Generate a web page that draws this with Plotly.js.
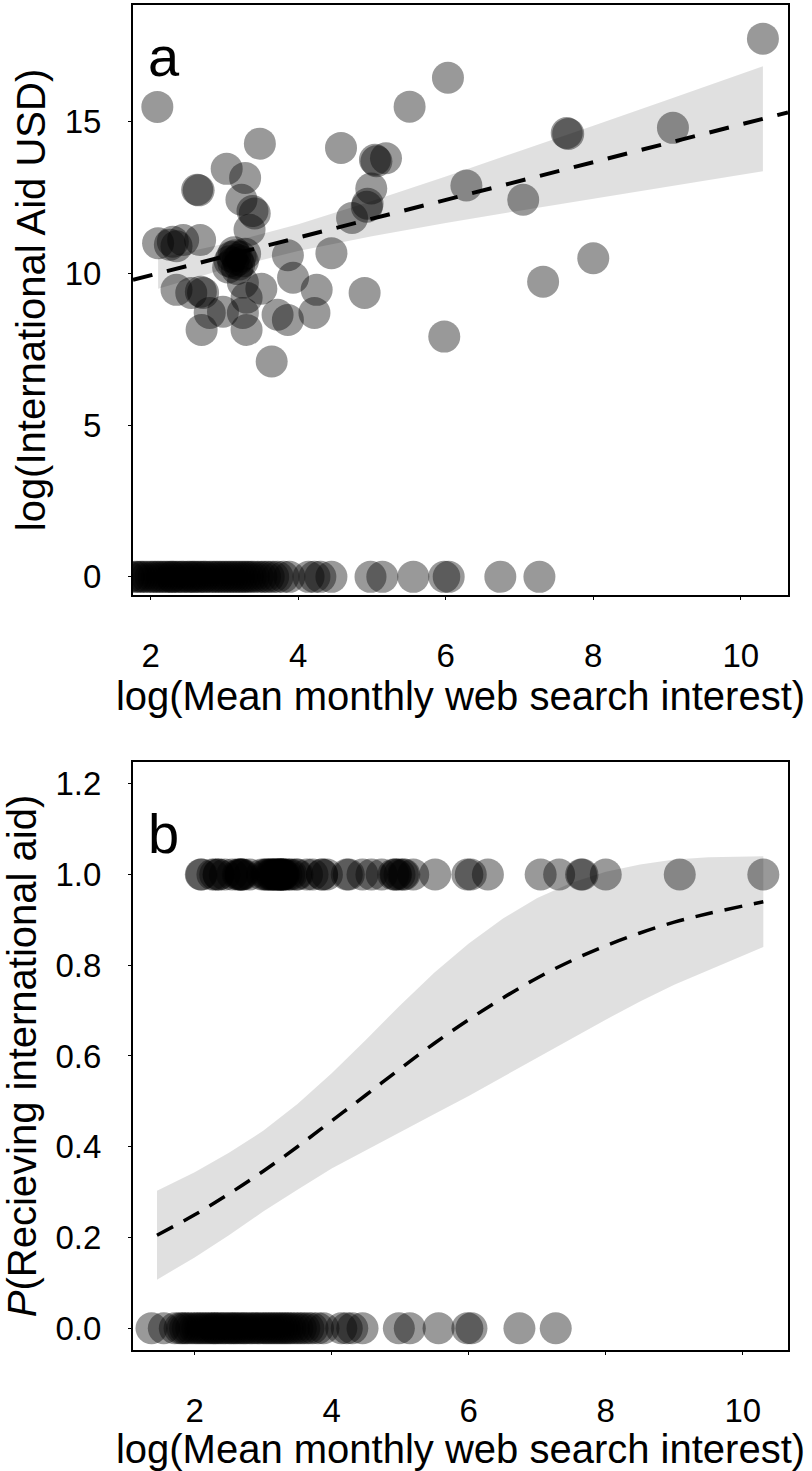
<!DOCTYPE html>
<html>
<head>
<meta charset="utf-8">
<script src="https://cdn.plot.ly/plotly-3.0.1.min.js"></script>
<style>
  html, body { margin: 0; padding: 0; background: #ffffff; }
  #chart { width: 812px; height: 1471px; }
</style>
</head>
<body>
<div id="chart"></div>
<script>
// ---------------- data ----------------
// Countries that received aid: x = log(search interest), y = log(aid USD)
var aidX = [2.09, 6.03, 5.51, 3.48, 4.58, 5.04, 5.06, 5.19, 3.03, 3.28,
            2.63, 2.65, 3.23, 3.38, 3.41, 3.34, 4.99, 4.94, 4.93, 4.73,
            6.28, 2.10, 2.26, 2.30, 2.44, 2.67, 2.35, 3.07, 3.10, 3.12,
            3.15, 3.18, 3.20, 3.22, 3.25, 3.13, 3.28, 3.05, 3.17, 3.86,
            4.45, 2.35, 2.55, 2.71, 2.68, 2.98, 2.80, 3.25, 3.30, 2.69,
            3.72, 3.86, 3.93, 4.25, 4.22, 4.90, 3.64, 5.98, 3.25, 3.30,
            3.50, 10.30, 7.64, 7.66, 9.08, 7.05, 8.00, 7.32];
var aidY = [15.49, 16.45, 15.50, 14.28, 14.14, 13.75, 13.70, 13.80, 13.45, 13.15,
            12.76, 12.74, 12.43, 12.06, 11.98, 11.44, 12.80, 12.30, 12.20, 11.83,
            12.90, 11.00, 10.95, 11.05, 11.10, 11.10, 10.90, 10.40, 10.55, 10.35,
            10.60, 10.45, 10.30, 10.55, 10.40, 10.70, 10.65, 10.20, 10.15, 10.60,
            10.67, 9.46, 9.36, 9.36, 9.40, 8.74, 8.70, 8.70, 8.14, 8.14,
            8.64, 8.47, 9.86, 9.46, 8.70, 9.36, 7.10, 7.92, 9.70, 9.20,
            9.50, 17.74, 14.63, 14.60, 14.80, 12.43, 10.50, 9.73];
// Countries that received no aid (aid = 0)
var noAidX = [1.37, 1.55, 1.71, 1.78, 1.82, 1.86, 1.90, 1.95, 2.00, 2.04,
              2.08, 2.12, 2.16, 2.20, 2.24, 2.28, 2.30, 2.34, 2.38, 2.42,
              2.45, 2.50, 2.53, 2.57, 2.60, 2.64, 2.68, 2.72, 2.75, 2.80,
              2.84, 2.88, 2.92, 2.96, 3.00, 3.04, 3.08, 3.12, 3.16, 3.20,
              3.24, 3.28, 3.32, 3.36, 3.40, 3.45, 3.50, 3.55, 3.60, 3.66,
              3.72, 3.80, 3.88, 4.14, 4.22, 4.30, 4.45, 4.98, 5.14, 5.56,
              5.98, 6.04, 6.74, 7.27];

// Panel a: linear fit and its confidence band
var fitAX     = [1.76, 10.64];
var fitAY     = [9.79, 15.31];
var bandAX    = [2.10, 3.00, 4.00, 5.00, 6.00, 7.00, 8.00, 9.00, 10.30];
var bandAUp   = [10.50, 10.98, 11.62, 12.39, 13.20, 14.03, 14.87, 15.72, 16.83];
var bandALow  = [9.50, 10.14, 10.74, 11.23, 11.66, 12.07, 12.47, 12.86, 13.37];

// Panel b: logistic fit and its confidence band
var fitBX    = [1.45, 2.00, 2.50, 3.00, 3.50, 4.00, 4.50, 5.00, 5.50, 6.00, 6.50, 7.00, 7.50, 8.00, 8.50, 9.00, 9.50, 10.30];
var fitBY    = [0.205, 0.250, 0.296, 0.346, 0.400, 0.457, 0.514, 0.572, 0.628, 0.680, 0.728, 0.772, 0.810, 0.843, 0.871, 0.895, 0.914, 0.940];
var bandBUp  = [0.303, 0.344, 0.387, 0.435, 0.494, 0.562, 0.636, 0.712, 0.784, 0.848, 0.903, 0.948, 0.982, 1.006, 1.022, 1.033, 1.038, 1.040];
var bandBLow = [0.107, 0.156, 0.205, 0.257, 0.305, 0.352, 0.392, 0.432, 0.472, 0.512, 0.553, 0.596, 0.638, 0.680, 0.720, 0.757, 0.790, 0.840];

var xTicks  = [2, 4, 6, 8, 10];
var yTicksA = [0, 5, 10, 15];
var yTicksB = [0, 0.2, 0.4, 0.6, 0.8, 1.0, 1.2];

// ---------------- build traces ----------------
var FONT = 'Liberation Sans, Arial, sans-serif';
var dotColor = 'rgba(0,0,0,0.4)';
var bandColor = 'rgba(0,0,0,0.12)';
var DOT = 32;
var TITLE = 40;
var TICK = 33;

function poly(xs, up, low) {
  return {
    x: xs.concat(xs.slice().reverse()),
    y: up.concat(low.slice().reverse())
  };
}
var pa = poly(bandAX, bandAUp, bandALow);
var pb = poly(fitBX, bandBUp, bandBLow);

var allX = aidX.concat(noAidX);
var allAidY = aidY.concat(noAidX.map(function(){ return 0; }));
var allRecv = aidX.map(function(){ return 1; }).concat(noAidX.map(function(){ return 0; }));

var traces = [
  { type: 'scatter', mode: 'lines', x: pa.x, y: pa.y, fill: 'toself',
    fillcolor: bandColor, line: { width: 0, color: 'rgba(0,0,0,0)' },
    xaxis: 'x', yaxis: 'y', hoverinfo: 'skip', showlegend: false },
  { type: 'scatter', mode: 'markers', x: allX, y: allAidY,
    marker: { size: DOT, color: dotColor, line: { width: 0 } },
    xaxis: 'x', yaxis: 'y', showlegend: false },
  { type: 'scatter', mode: 'lines', x: fitAX, y: fitAY,
    line: { color: '#000000', width: 4, dash: '20px,15px' },
    xaxis: 'x', yaxis: 'y', showlegend: false },

  { type: 'scatter', mode: 'lines', x: pb.x, y: pb.y, fill: 'toself',
    fillcolor: bandColor, line: { width: 0, color: 'rgba(0,0,0,0)' },
    xaxis: 'x2', yaxis: 'y2', hoverinfo: 'skip', showlegend: false },
  { type: 'scatter', mode: 'markers', x: allX, y: allRecv,
    marker: { size: DOT, color: dotColor, line: { width: 0 } },
    xaxis: 'x2', yaxis: 'y2', showlegend: false },
  { type: 'scatter', mode: 'lines', x: fitBX, y: fitBY,
    line: { color: '#000000', width: 3.5, dash: '18px,12px', shape: 'spline' },
    xaxis: 'x2', yaxis: 'y2', showlegend: false }
];

var axisCommon = {
  showline: true, linecolor: '#000000', linewidth: 2, mirror: true,
  showgrid: false, zeroline: false,
  ticks: 'outside', ticklen: 3, tickwidth: 1, tickcolor: '#000000',
  tickfont: { family: FONT, size: TICK, color: '#000000' }
};
function ax(extra) { return Object.assign({}, axisCommon, extra); }

var layout = {
  width: 812, height: 1471,
  margin: { l: 133, r: 24, t: 5, b: 121 },
  paper_bgcolor: '#ffffff', plot_bgcolor: '#ffffff',
  showlegend: false,
  font: { family: FONT, color: '#000000' },
  xaxis: ax({ domain: [0, 1], anchor: 'y', range: [1.76, 10.64],
    tickmode: 'array', tickvals: xTicks, ticklabelstandoff: 27,
    title: { text: 'log(Mean monthly web search interest)', font: { family: FONT, size: TITLE }, standoff: 4 } }),
  yaxis: ax({ domain: [0.5613, 1], anchor: 'x', range: [-0.6, 18.85],
    tickmode: 'array', tickvals: yTicksA, ticklabelstandoff: 20,
    title: { text: 'log(International Aid USD)', font: { family: FONT, size: TITLE }, standoff: 7 } }),
  xaxis2: ax({ domain: [0, 1], anchor: 'y2', range: [1.1, 10.66],
    tickmode: 'array', tickvals: xTicks, ticklabelstandoff: 27,
    title: { text: 'log(Mean monthly web search interest)', font: { family: FONT, size: TITLE }, standoff: 4 } }),
  yaxis2: ax({ domain: [0, 0.4372], anchor: 'x2', range: [-0.048, 1.248],
    tickmode: 'array', tickvals: yTicksB, tickformat: '.1f', ticklabelstandoff: 20,
    title: { text: '<i>P</i>(Recieving international aid)', font: { family: FONT, size: TITLE }, standoff: 7 } }),
  annotations: [
    { text: 'a', xref: 'x domain', yref: 'y domain', x: 0.02, y: 0.97,
      xanchor: 'left', yanchor: 'top', showarrow: false,
      font: { family: FONT, size: 56, color: '#000000' } },
    { text: 'b', xref: 'x2 domain', yref: 'y2 domain', x: 0.02, y: 0.935,
      xanchor: 'left', yanchor: 'top', showarrow: false,
      font: { family: FONT, size: 56, color: '#000000' } }
  ]
};

Plotly.newPlot('chart', traces, layout, { staticPlot: true, displayModeBar: false });
</script>
</body>
</html>
